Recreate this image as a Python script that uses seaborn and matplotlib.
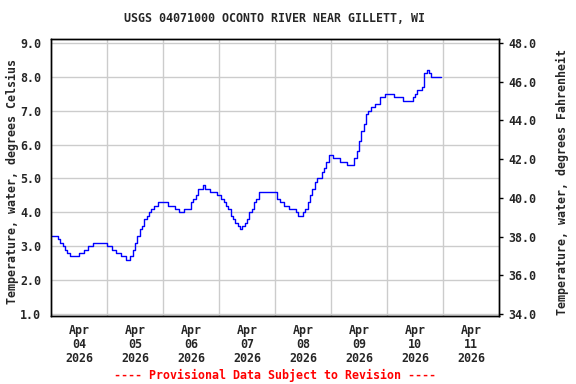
import matplotlib
matplotlib.use("Agg")
import matplotlib.pyplot as plt
import matplotlib.dates as mdates
import seaborn as sns
import pandas as pd

# hourly water temperature, deg C, starting 2026-04-04 00:00
start = "2026-04-04 00:00"
temp_c = [
    # Apr 04
    3.3, 3.3, 3.3, 3.2, 3.1, 3.0, 2.9, 2.8, 2.7, 2.7, 2.7, 2.7,
    2.8, 2.8, 2.9, 2.9, 3.0, 3.0, 3.1, 3.1, 3.1, 3.1, 3.1, 3.1,
    # Apr 05
    3.0, 3.0, 2.9, 2.9, 2.8, 2.8, 2.7, 2.7, 2.6, 2.6, 2.7, 2.9,
    3.1, 3.3, 3.5, 3.6, 3.8, 3.9, 4.0, 4.1, 4.2, 4.2, 4.3, 4.3,
    # Apr 06
    4.3, 4.3, 4.2, 4.2, 4.2, 4.1, 4.1, 4.0, 4.0, 4.1, 4.1, 4.1,
    4.3, 4.4, 4.5, 4.7, 4.7, 4.8, 4.7, 4.7, 4.6, 4.6, 4.6, 4.5,
    # Apr 07
    4.5, 4.4, 4.3, 4.2, 4.1, 3.9, 3.8, 3.7, 3.6, 3.5, 3.6, 3.7,
    3.8, 4.0, 4.1, 4.3, 4.4, 4.6, 4.6, 4.6, 4.6, 4.6, 4.6, 4.6,
    # Apr 08
    4.6, 4.4, 4.3, 4.3, 4.2, 4.2, 4.1, 4.1, 4.1, 4.0, 3.9, 3.9,
    4.0, 4.1, 4.3, 4.5, 4.7, 4.9, 5.0, 5.0, 5.2, 5.3, 5.5, 5.7,
    # Apr 09
    5.7, 5.6, 5.6, 5.6, 5.5, 5.5, 5.5, 5.4, 5.4, 5.4, 5.6, 5.8,
    6.1, 6.4, 6.6, 6.9, 7.0, 7.1, 7.1, 7.2, 7.2, 7.4, 7.4, 7.5,
    # Apr 10
    7.5, 7.5, 7.5, 7.4, 7.4, 7.4, 7.4, 7.3, 7.3, 7.3, 7.3, 7.4,
    7.5, 7.6, 7.6, 7.7, 8.1, 8.2, 8.1, 8.0, 8.0, 8.0, 8.0, 8.0,
]
c_ticks = [1.0, 2.0, 3.0, 4.0, 5.0, 6.0, 7.0, 8.0, 9.0]
f_ticks = [34.0, 36.0, 38.0, 40.0, 42.0, 44.0, 46.0, 48.0]
day_labels = ["Apr\n04\n2026", "Apr\n05\n2026", "Apr\n06\n2026", "Apr\n07\n2026",
              "Apr\n08\n2026", "Apr\n09\n2026", "Apr\n10\n2026", "Apr\n11\n2026"]

df = pd.DataFrame({
    "time": pd.date_range(start, periods=len(temp_c), freq="h"),
    "temp": temp_c,
})

sns.set_style("white")
plt.rcParams['font.family'] = ['DejaVu Sans Mono']
plt.rcParams['font.weight'] = 'bold'
fs = 8.4

fig = plt.figure(figsize=(5.76, 3.84), dpi=100)
ax = fig.add_axes([51 / 576, 1 - 316 / 384, 448 / 576, 277 / 384])

sns.lineplot(data=df, x="time", y="temp", ax=ax, color="#0000ff",
             linewidth=1.0, drawstyle="steps-post")

t0 = pd.Timestamp("2026-04-04")
ax.set_xlim(t0, t0 + pd.Timedelta(days=8))
ax.set_ylim(0.941, 9.118)

midnights = pd.date_range(t0 + pd.Timedelta(days=1), periods=7, freq="D")
noons = pd.date_range(t0 + pd.Timedelta(hours=12), periods=8, freq="D")
ax.set_xticks(midnights)
ax.set_xticklabels([])
ax.set_xticks(noons, minor=True)
ax.set_xticklabels(day_labels, minor=True, fontsize=fs, fontweight="bold",
                   linespacing=1.1)
ax.tick_params(axis="x", which="minor", length=0, pad=6)
ax.tick_params(axis="x", which="major", length=0)

ax.set_yticks(c_ticks)
ax.set_yticklabels([f"{v:.1f}" for v in c_ticks], fontsize=fs, fontweight="bold")
ax.tick_params(axis="y", length=0, pad=7)

ax.grid(True, which="major", color="#cccccc", linewidth=1.0)
ax.set_xlabel("")
ax.set_ylabel("")
for s in ax.spines.values():
    s.set_color("black")
    s.set_linewidth(1.0)

ax2 = ax.twinx()
ax2.set_ylim(33.9, 48.21)
ax2.set_yticks(f_ticks)
ax2.set_yticklabels([f"{v:.1f}" for v in f_ticks], fontsize=fs, fontweight="bold")
ax2.tick_params(axis="y", direction="out", length=3, width=1, pad=4, color="black")
ax2.grid(False)
for s in ax2.spines.values():
    s.set_color("black")
    s.set_linewidth(1.0)

fig.text(275 / 576, 1 - 19 / 384, "USGS 04071000 OCONTO RIVER NEAR GILLETT, WI",
         ha="center", va="center", fontsize=fs, fontweight="bold")
fig.text(12 / 576, 1 - 182 / 384, "Temperature, water, degrees Celsius",
         ha="center", va="center", rotation=90, fontsize=fs, fontweight="bold")
fig.text(562 / 576, 1 - 182 / 384, "Temperature, water, degrees Fahrenheit",
         ha="center", va="center", rotation=90, fontsize=fs, fontweight="bold")
fig.text(274.5 / 576, 1 - 375 / 384, "---- Provisional Data Subject to Revision ----",
         ha="center", va="center", fontsize=fs, fontweight="bold", color="#ff0000")

fig.savefig("out.png", dpi=100)
